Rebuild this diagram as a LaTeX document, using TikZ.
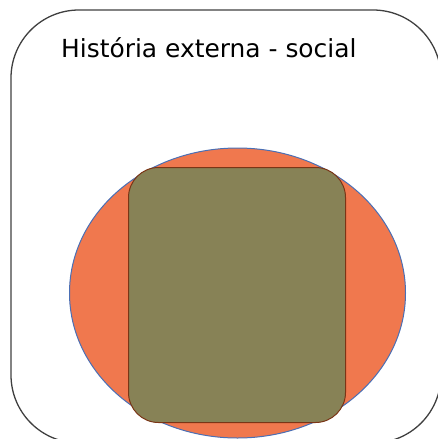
\documentclass[tikz,border=0pt]{standalone}
\usepackage{fontspec}
\setmainfont{DejaVu Sans}
\usepackage{xcolor}
\definecolor{frameline}{HTML}{404040}
\definecolor{orangefill}{HTML}{F0784E}
\definecolor{ringline}{HTML}{4A6FB5}
\definecolor{olivefill}{HTML}{878256}
\definecolor{oliveline}{HTML}{7A3516}
\usepackage{tikz}
\usetikzlibrary{shapes.geometric,positioning}

\begin{document}
\begin{tikzpicture}[
  x=1pt, y=-1pt,
  frame/.style={draw=frameline, line width=1.3pt, rounded corners=68pt,
    minimum width=430pt, minimum height=433pt, inner sep=0pt},
  ring/.style={ellipse, draw=ringline, fill=orangefill, line width=1pt,
    minimum width=336pt, minimum height=290pt, inner sep=0pt},
  core/.style={draw=oliveline, fill=olivefill, line width=1pt,
    rounded corners=30pt, minimum width=217pt, minimum height=255pt,
    inner sep=0pt},
  title/.style={font=\fontsize{24.9}{28}\selectfont, text=black,
    anchor=base west, inner sep=0pt}
]
\useasboundingbox (0,0) rectangle (437,439);
\node[frame] (outer) at (226,226.5) {};
\node[ring] (social) at (237.5,293) {};
\node[core] (inner) at (237,295) {};
\node[title] (label) at (61,57) {História externa - social};
\end{tikzpicture}
\end{document}
